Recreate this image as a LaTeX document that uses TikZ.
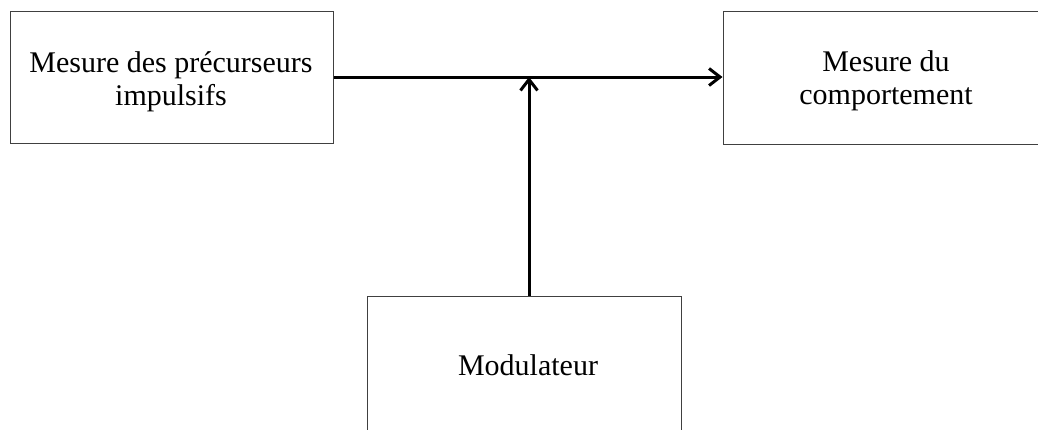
\documentclass[tikz,border=0pt]{standalone}
\usepackage{fontspec}
\setmainfont{Liberation Serif}
\usetikzlibrary{arrows.meta}
\begin{document}
\begin{tikzpicture}[x=1pt,y=-1pt,
  block/.style={draw=black!75,line width=1pt,fill=white,inner sep=0pt},
  txt/.style={align=center,inner sep=0pt,font=\fontsize{30}{33}\selectfont},
  link/.style={line width=3pt,-{Straight Barb[length=11pt,width=17pt]}}]
\useasboundingbox (0,0) rectangle (1038,429);
\clip (0,0) rectangle (1038,429);
% three boxes
\node[block,minimum width=323pt,minimum height=132pt] (pre) at (171.5,77) {};
\node[block,minimum width=325pt,minimum height=133pt] (comp) at (885.5,77.5) {};
\node[block,minimum width=314pt,minimum height=140pt] (mod) at (524,366) {};
% their texts
\node[txt] (pretxt) at (171,81.5) {Mesure des précurseurs\\impulsifs};
\node[txt] (comptxt) at (886,80.5) {Mesure du\\comportement};
\node[txt] (modtxt) at (528,365) {Modulateur};
% connectors
\coordinate (junc) at (529,77);
\draw[link] (pre.east |- junc) -- (comp.west |- junc);
\draw[link] (mod.north -| junc) -- (junc);
\end{tikzpicture}
\end{document}
